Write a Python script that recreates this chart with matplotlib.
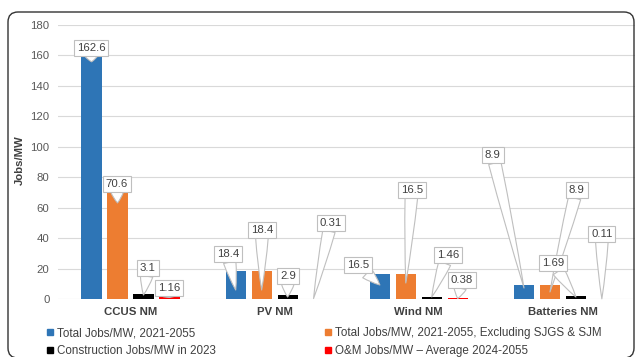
import numpy as np
import matplotlib
matplotlib.use("Agg")
import matplotlib.pyplot as plt
from matplotlib.lines import Line2D
from matplotlib.patches import FancyBboxPatch

plt.rcParams['font.family'] = ['Liberation Sans', 'DejaVu Sans']

# Jobs per MW by technology
categories = ['CCUS NM', 'PV NM', 'Wind NM', 'Batteries NM']
series_names = ['Total Jobs/MW, 2021-2055',
                'Total Jobs/MW, 2021-2055, Excluding SJGS & SJM',
                'Construction Jobs/MW in 2023',
                'O&M Jobs/MW \u2013 Average 2024-2055']
total_jobs = [162.6, 18.4, 16.5, 8.9]
total_excl = [70.6, 18.4, 16.5, 8.9]
construction = [3.1, 2.9, 1.46, 1.69]
om_jobs = [1.16, 0.31, 0.38, 0.11]
y_ticks = [0, 20, 40, 60, 80, 100, 120, 140, 160, 180]

series = [total_jobs, total_excl, construction, om_jobs]
colors = ['#2E75B6', '#ED7D31', '#000000', '#FF0000']

# callout box centres (data coords), one row per series, one column per category
label_x = [[-0.274, 0.676, 1.578, 2.514],
           [-0.094, 0.912, 1.952, 3.096],
           [0.121, 1.092, 2.202, 2.930],
           [0.267, 1.390, 2.299, 3.270]]
label_y = [[165.0, 29.6, 22.4, 94.7],
           [75.6, 45.4, 71.7, 71.7],
           [20.4, 15.1, 28.9, 23.7],
           [7.2, 50.0, 12.5, 42.7]]
# where each callout points on its bar
tip_y = [[155.8, 5.9, 9.2, 7.2],
         [63.1, 5.9, 10.5, 4.6],
         [2.6, 1.3, 1.3, 1.3],
         [1.0, 0.3, 0.3, 0.1]]

fig = plt.figure(figsize=(6.35, 3.57), dpi=100)
ax = fig.add_axes([0.092, 0.1625, 0.908, 0.7675])

x = np.arange(len(categories))
step = 0.18
width = 0.14
for j, vals in enumerate(series):
    xs = x + (j - 1.5) * step
    ax.bar(xs, vals, width=width, color=colors[j], zorder=2)
    for i, v in enumerate(vals):
        ax.annotate(f'{v:g}', xy=(xs[i], tip_y[j][i]),
                    xytext=(label_x[j][i], label_y[j][i]),
                    ha='center', va='center', fontsize=8.2, color='#404040',
                    bbox=dict(boxstyle='square,pad=0.25', fc='white',
                              ec='#BFBFBF', lw=0.8),
                    arrowprops=dict(arrowstyle='wedge,tail_width=1.1,shrink_factor=0.6',
                                    fc='white', ec='#BFBFBF', lw=0.8,
                                    shrinkA=0, shrinkB=0),
                    annotation_clip=False, zorder=3)

ax.set_xlim(-0.5, 3.5)
ax.set_ylim(0, 180)
ax.set_yticks(y_ticks)
ax.set_xticks(x)
ax.set_xticklabels(categories, fontweight='bold', fontsize=8.2, color='#404040')
ax.tick_params(axis='y', length=0, pad=6.5, labelsize=8.2, labelcolor='#595959')
ax.tick_params(axis='x', length=0, pad=5.5)
ax.grid(axis='y', color='#D9D9D9', lw=0.8, zorder=0)
ax.set_axisbelow(True)
for s in ax.spines.values():
    s.set_visible(False)

ax.set_ylabel('Jobs/MW', fontweight='bold', fontsize=8.2, color='#404040')
ax.yaxis.set_label_coords(-0.058, 0.507)

# legend: two columns, row-major order
handles = [Line2D([], [], marker='s', ls='none', color=c, markersize=4.2) for c in colors]
order = [0, 2, 1, 3]
fig.legend([handles[k] for k in order], [series_names[k] for k in order],
           ncol=2, loc='upper left', bbox_to_anchor=(0.073, 0.083),
           frameon=False, fontsize=8.4, labelcolor='#404040',
           handlelength=0.6, handletextpad=0.3, columnspacing=9.3,
           labelspacing=0.5, borderpad=0, borderaxespad=0)

# rounded outer frame
frame = FancyBboxPatch((0.08, -0.01), 6.26, 3.46,
                       boxstyle='round,pad=0,rounding_size=0.1',
                       transform=fig.dpi_scale_trans, fill=False,
                       ec='#333333', lw=1.0, clip_on=False)
fig.patches.append(frame)

fig.savefig('out.png', dpi=100)
